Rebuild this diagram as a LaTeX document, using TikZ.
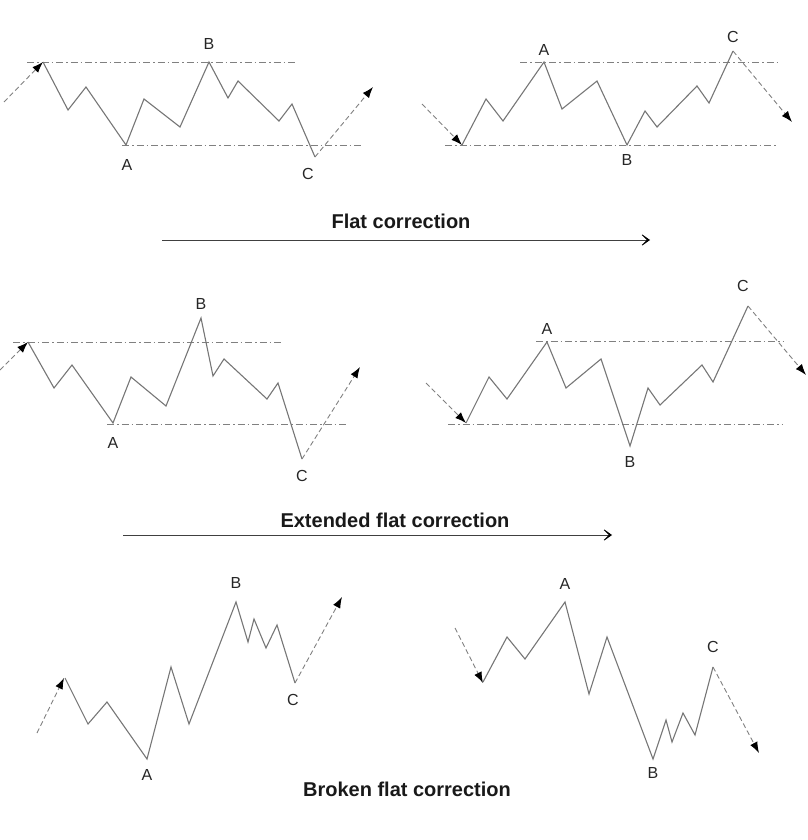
\documentclass[tikz,border=0pt]{standalone}
\usepackage{fontspec}
\setmainfont{Liberation Sans}
\usetikzlibrary{arrows.meta}
\definecolor{wavegray}{RGB}{118,118,118}
\definecolor{levelgray}{RGB}{128,128,128}

\begin{document}
\begin{tikzpicture}[x=1pt,y=-1pt,
		wave/.style={wavegray,line width=1.1pt},
		level/.style={levelgray,line width=0.9pt,dash pattern=on 7pt off 3pt on 1.5pt off 3pt},
		trend/.style={levelgray,line width=0.9pt,dash pattern=on 5pt off 3pt,-{Latex[color=black,length=11pt,width=8pt]}},
		lbl/.style={inner sep=0pt,text=black!85,font=\fontsize{16}{19}\selectfont},
		title/.style={inner sep=0pt,text=black!90,font=\fontsize{20}{24}\selectfont\bfseries},
		way/.style={black!75,line width=1pt,-{Stealth[color=black,length=12pt,width=17pt,inset=9pt]}}]
		\useasboundingbox (0,0) rectangle (807,840);
		% flat correction, up trend
		\begin{scope}
			\draw[level] (27,62) -- (296,62);
			\draw[level] (122,145) -- (362,145);
			\draw[trend] (4,102) -- (43,62);
			\draw[wave] (43,62) -- (68,110) -- (86,87) -- (126,145) -- (144,99) -- (180,127) -- (209,62)
				-- (228,98) -- (238,81) -- (279,121) -- (292,104) -- (315,157);
			\draw[trend] (315,157) -- (373,87);
			\draw (209,44) node[lbl] (fupB) {B};
			\draw (127,165) node[lbl] (fupA) {A};
			\draw (308,174) node[lbl] (fupC) {C};
		\end{scope}
		% flat correction, down trend
		\begin{scope}
			\draw[level] (520,62) -- (778,62);
			\draw[level] (445,145) -- (778,145);
			\draw[trend] (422,104) -- (462,145);
			\draw[wave] (462,145) -- (486,99) -- (503,121) -- (544,62) -- (562,109) -- (597,81) -- (627,145)
				-- (645,111) -- (657,127) -- (697,86) -- (709,103) -- (733,51);
			\draw[trend] (733,51) -- (792,122);
			\draw (544,50) node[lbl] (fdnA) {A};
			\draw (627,160) node[lbl] (fdnB) {B};
			\draw (733,37) node[lbl] (fdnC) {C};
		\end{scope}
		\draw (401,221) node[title] (flat) {Flat correction};
		\draw[way] (162,240) -- (650,240);
		% extended flat correction, up trend
		\begin{scope}
			\draw[level] (13,342) -- (282,342);
			\draw[level] (107,424) -- (348,424);
			\draw[trend] (0,370) -- (28,342);
			\draw[wave] (28,342) -- (54,388) -- (72,365) -- (113,423) -- (131,377) -- (166,406) -- (201,318)
				-- (213,376) -- (224,359) -- (267,399) -- (278,383) -- (302,459);
			\draw[trend] (302,459) -- (360,367);
			\draw (201,304) node[lbl] (eupB) {B};
			\draw (113,443) node[lbl] (eupA) {A};
			\draw (302,476) node[lbl] (eupC) {C};
		\end{scope}
		% extended flat correction, down trend
		\begin{scope}
			\draw[level] (536,341) -- (783,341);
			\draw[level] (448,424) -- (782,424);
			\draw[trend] (426,383) -- (466,423);
			\draw[wave] (466,423) -- (489,377) -- (507,399) -- (547,342) -- (566,388) -- (601,359) -- (630,446)
				-- (648,388) -- (660,405) -- (702,365) -- (713,382) -- (748,306);
			\draw[trend] (748,306) -- (806,375);
			\draw (547,329) node[lbl] (ednA) {A};
			\draw (630,462) node[lbl] (ednB) {B};
			\draw (743,286) node[lbl] (ednC) {C};
		\end{scope}
		\draw (395,520) node[title] (extended) {Extended flat correction};
		\draw[way] (123,535) -- (612,535);
		% broken flat correction, up trend
		\begin{scope}
			\draw[trend] (37,733) -- (64,678);
			\draw[wave] (65,678) -- (88,724) -- (107,702) -- (147,759) -- (171,667) -- (189,724) -- (236,602)
				-- (248,642) -- (254,619) -- (266,648) -- (277,625) -- (295,683);
			\draw[trend] (295,683) -- (342,597);
			\draw (236,583) node[lbl] (bupB) {B};
			\draw (293,700) node[lbl] (bupC) {C};
			\draw (147,775) node[lbl] (bupA) {A};
		\end{scope}
		% broken flat correction, down trend
		\begin{scope}
			\draw[trend] (455,628) -- (483,683);
			\draw[wave] (483,682) -- (507,637) -- (525,659) -- (565,602) -- (589,694) -- (607,637) -- (653,759)
				-- (666,720) -- (672,742) -- (683,713) -- (695,735) -- (713,667);
			\draw[trend] (713,667) -- (759,753);
			\draw (565,584) node[lbl] (bdnA) {A};
			\draw (713,647) node[lbl] (bdnC) {C};
			\draw (653,773) node[lbl] (bdnB) {B};
		\end{scope}
		\draw (407,789) node[title] (broken) {Broken flat correction};
	\end{tikzpicture}
\end{document}
